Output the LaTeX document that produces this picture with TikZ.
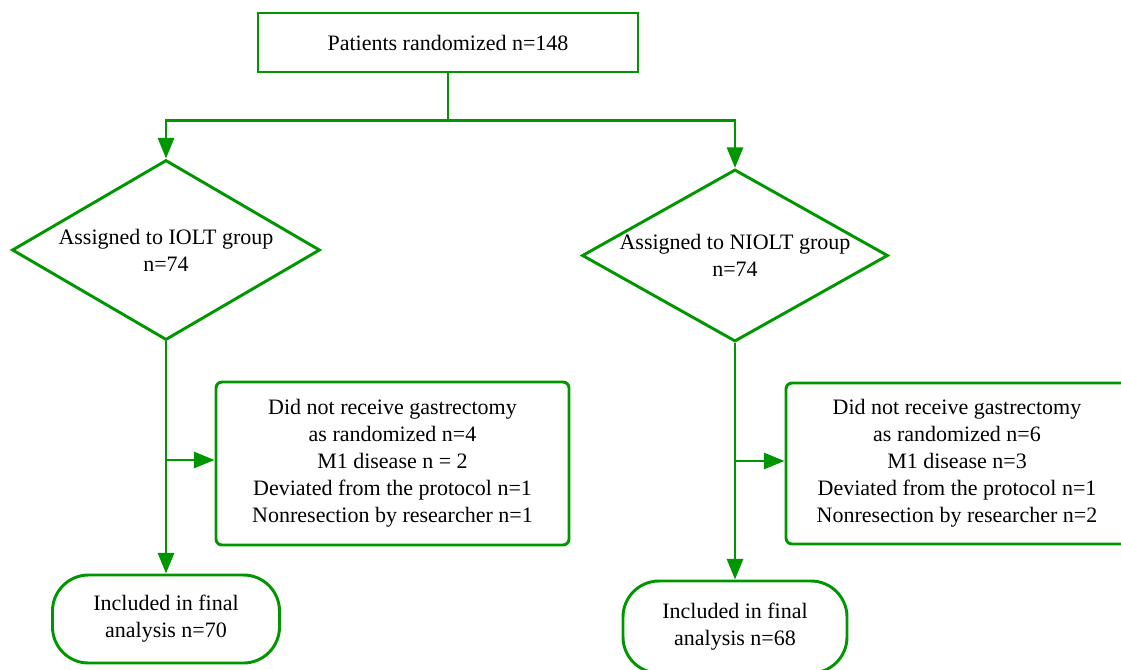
\documentclass[tikz,border=0pt]{standalone}
\usepackage{fontspec}
\setmainfont{Liberation Serif}
\usetikzlibrary{shapes.geometric,arrows.meta}
\definecolor{fg}{RGB}{0,150,0}
\begin{document}
\begin{tikzpicture}[x=0.75pt,y=-0.75pt,
  every node/.style={font=\fontsize{16.5}{20.25}\selectfont, align=center, text=black},
  line/.style={draw=fg, line width=2.2pt},
  arr/.style={line, -{Triangle[length=15.5pt,width=12pt]}},
  box/.style={rectangle, draw=fg, line width=2.2pt, inner sep=0pt},
  rbox/.style={box, rounded corners=4.5pt},
  term/.style={box, rounded corners=27pt},
  dia/.style={diamond, draw=fg, line width=2.2pt, inner sep=0pt}]
\path[use as bounding box] (0,0) rectangle (1121,669);
\clip (0,0) rectangle (1121,669);
\node[box, minimum width=285pt, minimum height=44.25pt] (top) at (448,42.5) {Patients randomized n=148};
\node[dia, aspect=1.711, minimum width=231pt, minimum height=135pt] (d1) at (166,250) {Assigned to IOLT group\\n=74};
\node[dia, aspect=1.778, minimum width=228pt, minimum height=128.25pt] (d2) at (735,255.5) {Assigned to NIOLT group\\n=74};
\node[rbox, minimum width=264.75pt, minimum height=122.25pt] (x1) at (392.5,463.5) {Did not receive gastrectomy\\as randomized n=4\\M1 disease n = 2\\Deviated from the protocol n=1\\Nonresection by researcher n=1};
\node[rbox, minimum width=256.5pt, minimum height=120.75pt] (x2) at (957,463.5) {Did not receive gastrectomy\\as randomized n=6\\M1 disease n=3\\Deviated from the protocol n=1\\Nonresection by researcher n=2};
\node[term, minimum width=170.25pt, minimum height=66pt] (o1) at (166,619) {Included in final\\analysis n=70};
\node[term, minimum width=168pt, minimum height=69pt] (o2) at (735,627) {Included in final\\analysis n=68};
\coordinate (split) at (448,120.5);
\coordinate (b1) at (166,460);
\coordinate (b2) at (735,461);
\draw[line] (top.south) -- (split);
\draw[arr] (split) -| (d1.north);
\draw[arr] (split) -| (d2.north);
\draw[arr] (d1.south) -- (o1.north);
\draw[arr] (d2.south) -- (o2.north);
\draw[arr] (b1) -- (x1.west |- b1);
\draw[arr] (b2) -- (x2.west |- b2);
\end{tikzpicture}
\end{document}
